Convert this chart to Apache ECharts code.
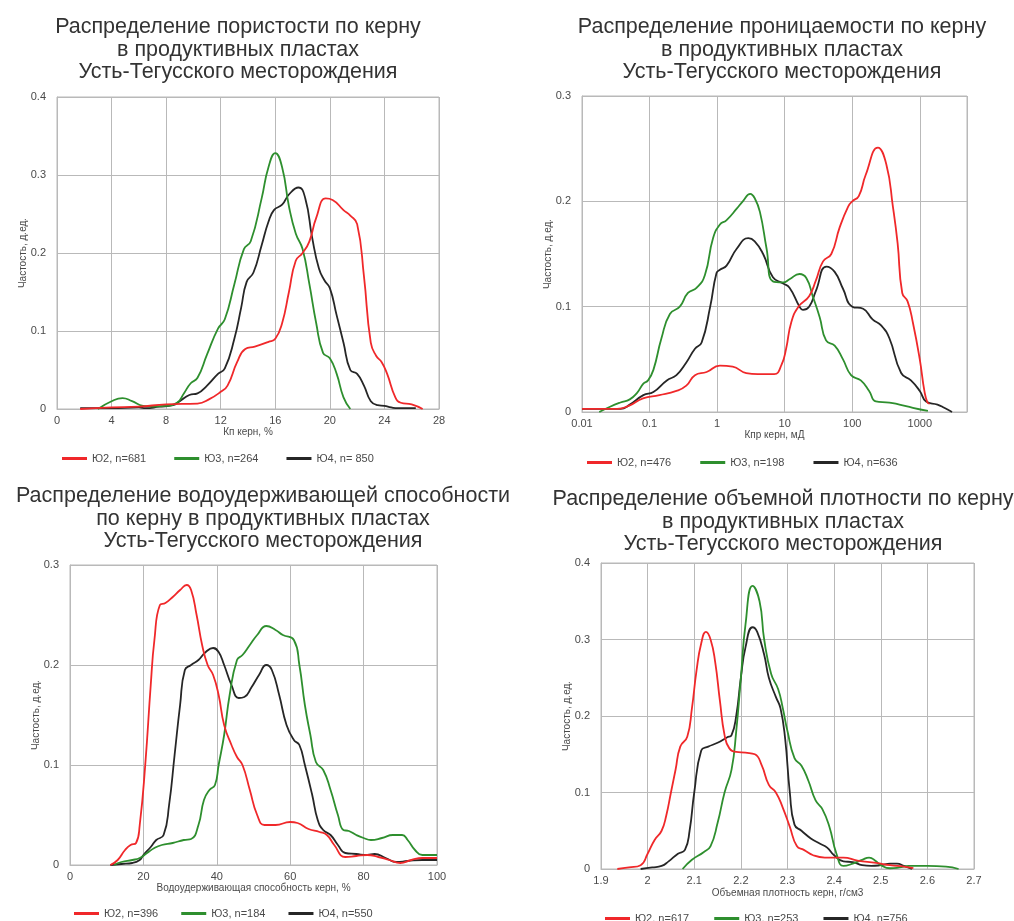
<!DOCTYPE html>
<html>
<head>
<meta charset="utf-8">
<script src="https://cdn.jsdelivr.net/npm/echarts@6/dist/echarts.min.js"></script>
<style>
  html, body { margin: 0; padding: 0; background: #fff; }
  #chart { width: 1014px; height: 921px; }
</style>
</head>
<body>
<div id="chart"></div>
<script>
// ---- Titles ----
const titles = [
  'Распределение пористости по керну\nв продуктивных пластах\nУсть-Тегусского месторождения',
  'Распределение проницаемости по керну\nв продуктивных пластах\nУсть-Тегусского месторождения',
  'Распределение водоудерживающей способности\nпо керну в продуктивных пластах\nУсть-Тегусского месторождения',
  'Распределение объемной плотности по керну\nв продуктивных пластах\nУсть-Тегусского месторождения'
];
const xNames = ['Кп керн, %', 'Кпр керн, мД', 'Водоудерживающая способность керн, %', 'Объемная плотность керн, г/см3'];
const yName = 'Частость, д.ед.';

// ---- Legend names ----
const names1 = ['Ю2, n=681', 'Ю3, n=264', 'Ю4, n= 850'];
const names2 = ['Ю2, n=476', 'Ю3, n=198', 'Ю4, n=636'];
const names3 = ['Ю2, n=396', 'Ю3, n=184', 'Ю4, n=550'];
const names4 = ['Ю2, n=617', 'Ю3, n=253', 'Ю4, n=756'];

// ---- Tick labels of the logarithmic permeability axis ----
const permTicks = [0.01, 0.1, 1, 10, 100, 1000];
const permTickLabels = ['0.01', '0.1', '1', '10', '100', '1000'];

// ---- Porosity, % ----
const poroU2 = [[1.7,0],[4,0.002],[6,0.003],[8,0.006],[10.3,0.007],[11.2,0.013],[12,0.022],[12.5,0.03],[13.2,0.06],[13.8,0.077],[14.5,0.08],[15.5,0.086],[16,0.09],[16.5,0.11],[17,0.15],[17.5,0.19],[18,0.2],[18.5,0.215],[19,0.245],[19.7,0.27],[20.2,0.268],[21,0.255],[21.5,0.248],[22,0.237],[22.5,0.17],[23,0.085],[23.4,0.068],[23.8,0.06],[24.2,0.045],[24.8,0.015],[25.2,0.008],[26,0.006],[26.8,0]];
const poroU3 = [[3,0],[4,0.01],[4.8,0.014],[5.5,0.01],[6.3,0.004],[7,0.003],[8,0.004],[8.8,0.008],[9.3,0.02],[9.8,0.033],[10.3,0.04],[11,0.07],[11.8,0.103],[12.3,0.115],[13,0.16],[13.7,0.205],[14.2,0.215],[15,0.27],[15.5,0.31],[16,0.328],[16.5,0.31],[17,0.26],[17.5,0.225],[18,0.205],[18.5,0.16],[19,0.11],[19.5,0.072],[20,0.065],[20.5,0.045],[21,0.015],[21.5,0]];
const poroU4 = [[1.7,0.001],[4,0.001],[6,0.002],[6.5,0.001],[7.5,0.003],[8.5,0.005],[9,0.01],[9.7,0.018],[10.3,0.02],[11,0.03],[11.8,0.045],[12.3,0.052],[13,0.09],[13.5,0.13],[13.9,0.163],[14.4,0.175],[15,0.21],[15.5,0.24],[15.9,0.255],[16.5,0.262],[17,0.275],[17.7,0.284],[18.2,0.27],[18.7,0.22],[19.2,0.18],[19.6,0.165],[20,0.155],[20.5,0.12],[21,0.085],[21.5,0.05],[22,0.045],[22.5,0.03],[23,0.01],[23.5,0.005],[24,0.004],[24.5,0.002],[25,0.001],[26.3,0.001]];

// ---- Permeability, mD ----
const permU2 = [[0.01,0.003],[0.033,0.003],[0.05,0.006],[0.08,0.013],[0.14,0.016],[0.25,0.02],[0.35,0.025],[0.47,0.035],[0.7,0.038],[1.1,0.044],[1.7,0.043],[2.7,0.037],[4,0.036],[7,0.036],[9,0.045],[10.5,0.06],[12.5,0.085],[16,0.1],[23,0.11],[29,0.125],[37,0.143],[49,0.15],[65,0.175],[87,0.195],[100,0.2],[125,0.205],[158,0.225],[240,0.251],[320,0.235],[400,0.195],[470,0.16],[550,0.113],[660,0.105],[790,0.085],[1000,0.05],[1170,0.02],[1300,0.009],[1400,0.008]];
const permU3 = [[0.018,0],[0.026,0.005],[0.037,0.009],[0.051,0.012],[0.065,0.018],[0.081,0.027],[0.095,0.03],[0.114,0.04],[0.15,0.07],[0.2,0.093],[0.28,0.1],[0.37,0.113],[0.5,0.118],[0.66,0.13],[0.87,0.165],[1.1,0.178],[1.37,0.182],[1.95,0.193],[2.4,0.2],[3.1,0.207],[3.6,0.203],[4.3,0.19],[5.4,0.155],[6.7,0.124],[9.5,0.123],[11.8,0.126],[16.6,0.131],[21,0.127],[26,0.11],[33,0.09],[41,0.068],[55,0.063],[73,0.05],[96,0.035],[134,0.03],[178,0.02],[224,0.01],[355,0.009],[500,0.007],[790,0.004],[1320,0.001]];
const permU4 = [[0.01,0.003],[0.037,0.003],[0.051,0.007],[0.081,0.016],[0.114,0.019],[0.18,0.03],[0.25,0.035],[0.35,0.047],[0.47,0.06],[0.59,0.066],[0.79,0.1],[0.98,0.132],[1.1,0.135],[1.38,0.139],[1.95,0.155],[2.9,0.165],[3.6,0.162],[4.8,0.15],[6.7,0.128],[9.5,0.122],[11.8,0.118],[16.6,0.1],[18.6,0.097],[23,0.1],[29,0.115],[41.5,0.138],[55,0.133],[73,0.117],[100,0.1],[145,0.098],[200,0.088],[270,0.082],[355,0.07],[530,0.037],[740,0.03],[1000,0.02],[1240,0.01],[1830,0.007],[2300,0.004],[3000,0]];

// ---- Water-holding capacity, % ----
const waterU2 = [[11,0],[13,0.005],[15,0.015],[16.5,0.02],[18,0.022],[19,0.04],[20.5,0.1],[22,0.18],[23,0.225],[24.5,0.26],[26,0.262],[28,0.268],[30,0.275],[31.8,0.28],[33,0.275],[34.5,0.25],[36,0.22],[37.5,0.2],[39,0.19],[40.5,0.17],[42,0.14],[44,0.12],[45.5,0.108],[47,0.1],[49,0.075],[51,0.05],[53,0.04],[56,0.04],[60,0.043],[62,0.042],[65,0.036],[68,0.033],[70,0.03],[72,0.02],[75,0.008],[78,0.009],[81,0.01],[84,0.008],[87,0.005],[90,0.002],[93,0.005],[96,0.007],[100,0.007]];
const waterU3 = [[12,0],[14,0.003],[17,0.005],[19,0.007],[21,0.012],[23,0.017],[25,0.02],[28,0.022],[31,0.025],[33,0.026],[35,0.04],[36.5,0.065],[38,0.075],[39.5,0.08],[40.5,0.1],[42,0.13],[43.5,0.17],[45.5,0.205],[47,0.21],[49,0.22],[51,0.23],[53.5,0.239],[56,0.235],[58,0.23],[61,0.225],[62.5,0.2],[64,0.16],[65.5,0.13],[67,0.103],[69,0.095],[71,0.075],[73,0.05],[74.5,0.035],[76,0.034],[78,0.03],[80,0.027],[82,0.025],[85,0.027],[88,0.03],[90.5,0.03],[92,0.025],[94,0.015],[96,0.01],[100,0.01]];
const waterU4 = [[11,0],[14,0.001],[17,0.002],[19,0.005],[20,0.01],[22,0.018],[23.5,0.025],[25.5,0.03],[27,0.06],[28.5,0.11],[30,0.16],[31.3,0.195],[33,0.2],[35,0.205],[37,0.213],[39,0.217],[40.5,0.213],[42,0.2],[44,0.18],[46,0.167],[47.5,0.168],[49.5,0.178],[51.5,0.19],[53.5,0.2],[55,0.195],[57,0.17],[59,0.14],[61,0.125],[62.5,0.12],[64,0.1],[66,0.07],[67.5,0.045],[69,0.035],[71,0.03],[73,0.02],[75,0.012],[78,0.011],[81,0.01],[83,0.011],[86,0.007],[89,0.003],[92,0.004],[96,0.005],[100,0.005]];

// ---- Bulk density, g/cm3 ----
const densU2 = [[1.935,0],[1.96,0.002],[1.985,0.005],[2.0,0.02],[2.015,0.038],[2.03,0.05],[2.04,0.07],[2.05,0.1],[2.06,0.13],[2.07,0.16],[2.085,0.173],[2.095,0.21],[2.105,0.26],[2.115,0.295],[2.125,0.31],[2.135,0.3],[2.145,0.27],[2.155,0.22],[2.165,0.175],[2.175,0.158],[2.19,0.153],[2.21,0.152],[2.23,0.15],[2.245,0.135],[2.26,0.11],[2.275,0.1],[2.29,0.08],[2.305,0.055],[2.32,0.03],[2.335,0.025],[2.355,0.018],[2.38,0.015],[2.42,0.015],[2.45,0.011],[2.49,0.008],[2.52,0.005],[2.55,0.003],[2.57,0.001]];
const densU3 = [[2.075,0],[2.095,0.012],[2.12,0.022],[2.135,0.03],[2.15,0.06],[2.165,0.1],[2.18,0.13],[2.19,0.18],[2.2,0.25],[2.21,0.32],[2.225,0.37],[2.24,0.35],[2.25,0.3],[2.265,0.255],[2.28,0.235],[2.29,0.21],[2.3,0.18],[2.315,0.145],[2.33,0.135],[2.345,0.115],[2.36,0.09],[2.375,0.078],[2.39,0.055],[2.405,0.02],[2.42,0.004],[2.44,0.007],[2.46,0.012],[2.475,0.015],[2.49,0.01],[2.5,0.005],[2.52,0.001],[2.54,0.002],[2.56,0.004],[2.6,0.004],[2.64,0.003],[2.667,0]];
const densU4 = [[1.985,0],[2.01,0.002],[2.03,0.004],[2.045,0.01],[2.065,0.02],[2.08,0.025],[2.09,0.05],[2.1,0.1],[2.115,0.155],[2.13,0.16],[2.15,0.165],[2.17,0.172],[2.18,0.175],[2.19,0.2],[2.2,0.25],[2.21,0.29],[2.225,0.316],[2.235,0.31],[2.25,0.28],[2.26,0.25],[2.275,0.225],[2.285,0.21],[2.295,0.17],[2.305,0.1],[2.315,0.058],[2.33,0.05],[2.35,0.04],[2.37,0.033],[2.385,0.028],[2.4,0.018],[2.42,0.01],[2.44,0.009],[2.46,0.005],[2.48,0.004],[2.5,0.005],[2.52,0.007],[2.535,0.007],[2.55,0.004],[2.567,0]];

const COLORS = ['#f0282a', '#2e8f2e', '#262626'];
const FONT = '"Liberation Sans", Arial, sans-serif';
const TXT = '#4a4a4a';
const GRIDC = '#b9b9b9';

// Plot rectangles for the four panels
const grids = [
  { left: 57, top: 97, width: 382, height: 312 },
  { left: 582, top: 96, width: 385, height: 316 },
  { left: 70, top: 565, width: 367, height: 300 },
  { left: 601, top: 563, width: 373, height: 306 }
].map(g => Object.assign({ show: true, borderColor: GRIDC, borderWidth: 1, backgroundColor: '#fff' }, g));

const titleDefs = [
  { x: 233, y: 11 }, { x: 777, y: 11 }, { x: 258, y: 480 }, { x: 778, y: 483 }
];

function yAxis(i, max) {
  return {
    type: 'value', gridIndex: i, min: 0, max: max, interval: 0.1,
    name: yName, nameLocation: 'middle', nameGap: 29, nameRotate: 90,
    nameMoveOverlap: false,
    nameTextStyle: { fontFamily: FONT, fontSize: 10, color: TXT },
    axisLine: { show: true, lineStyle: { color: GRIDC } },
    axisTick: { show: false },
    axisLabel: { fontFamily: FONT, fontSize: 11, color: TXT, margin: 11,
      formatter: v => (Math.abs(v) < 1e-9 ? '0' : (+v.toFixed(1)).toString()) },
    splitLine: { show: true, lineStyle: { color: GRIDC, width: 1 } }
  };
}

function xAxisLin(i, min, max, interval, nameGap, digits) {
  return {
    type: 'value', gridIndex: i, min: min, max: max, interval: interval,
    name: xNames[i], nameLocation: 'middle', nameGap: nameGap,
    nameTextStyle: { fontFamily: FONT, fontSize: 10, color: TXT },
    axisLine: { show: true, onZero: false, lineStyle: { color: GRIDC } },
    axisTick: { show: false },
    axisLabel: { fontFamily: FONT, fontSize: 11, color: TXT, margin: 6,
      formatter: v => (+v.toFixed(digits)).toString() },
    splitLine: { show: true, lineStyle: { color: GRIDC, width: 1 } }
  };
}

const xAxes = [
  xAxisLin(0, 0, 28, 4, 17, 0),
  {
    type: 'log', gridIndex: 1, logBase: 10, min: 0.01, max: 5000,
    name: xNames[1], nameLocation: 'middle', nameGap: 17,
    nameTextStyle: { fontFamily: FONT, fontSize: 10, color: TXT },
    axisLine: { show: true, onZero: false, lineStyle: { color: GRIDC } },
    axisTick: { show: false },
    axisLabel: { fontFamily: FONT, fontSize: 11, color: TXT, margin: 6,
      formatter: v => {
        for (let k = 0; k < permTicks.length; k++) {
          if (Math.abs(Math.log10(v) - Math.log10(permTicks[k])) < 1e-6) return permTickLabels[k];
        }
        return '';
      } },
    splitLine: { show: true, lineStyle: { color: GRIDC, width: 1 } }
  },
  xAxisLin(2, 0, 100, 20, 17, 0),
  xAxisLin(3, 1.9, 2.7, 0.1, 19, 1)
];

const yAxes = [yAxis(0, 0.4), yAxis(1, 0.3), yAxis(2, 0.3), yAxis(3, 0.4)];

const panelData = [
  [poroU2, poroU3, poroU4],
  [permU2, permU3, permU4],
  [waterU2, waterU3, waterU4],
  [densU2, densU3, densU4]
];
const panelNames = [names1, names2, names3, names4];

const series = [];
panelData.forEach((arr, i) => {
  arr.forEach((d, j) => {
    series.push({
      type: 'line', name: panelNames[i][j], xAxisIndex: i, yAxisIndex: i,
      data: d, showSymbol: false, symbol: 'none',
      smooth: 0.5,
      lineStyle: { color: COLORS[j], width: 1.8 },
      itemStyle: { color: COLORS[j] },
      z: 3 + (2 - j)
    });
  });
});

const legendDefs = [
  { left: 57, top: 448, gap: 28 },
  { left: 582, top: 452, gap: 29 },
  { left: 69, top: 903, gap: 23 },
  { left: 600, top: 908, gap: 25 }
];

const option = {
  animation: false,
  backgroundColor: '#fff',
  title: titles.map((t, i) => ({
    text: t, left: titleDefs[i].x, top: titleDefs[i].y, textAlign: 'center',
    textStyle: { fontFamily: FONT, fontSize: 21.5, fontWeight: 'normal', color: '#333', lineHeight: 22.5 }
  })),
  legend: legendDefs.map((l, i) => ({
    data: panelNames[i], left: l.left, top: l.top, itemGap: l.gap,
    itemWidth: 25, itemHeight: 3, icon: 'rect',
    textStyle: { fontFamily: FONT, fontSize: 11, color: TXT }
  })),
  grid: grids,
  xAxis: xAxes,
  yAxis: yAxes,
  series: series
};

const chart = echarts.init(document.getElementById('chart'), null, { renderer: 'canvas' });
chart.setOption(option);
</script>
</body>
</html>
